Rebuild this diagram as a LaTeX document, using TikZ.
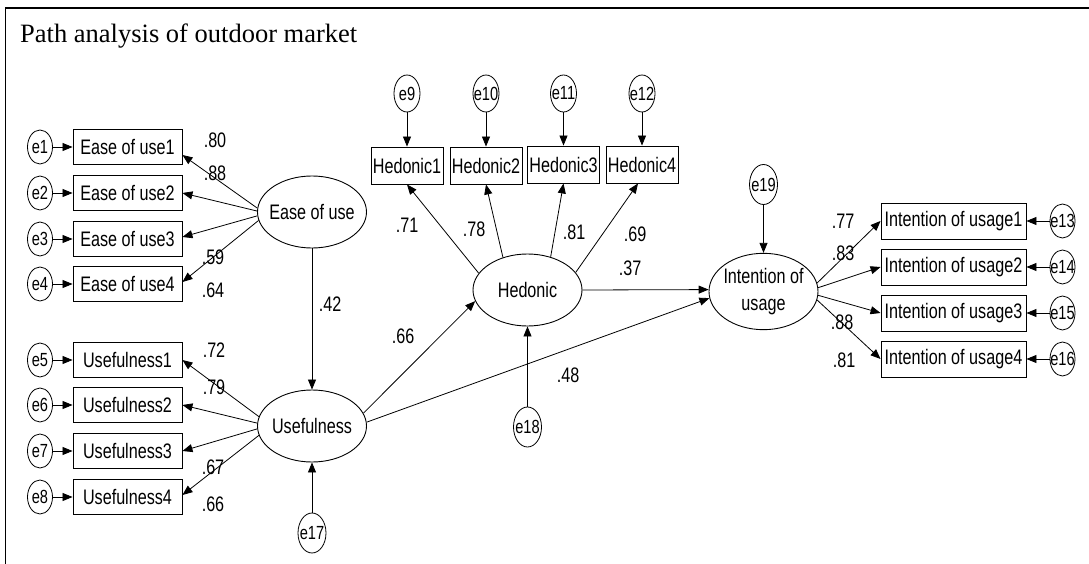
\documentclass[tikz,border=0pt]{standalone}
\usepackage{fontspec}
\setmainfont{Liberation Serif}
\newfontfamily\amosfam[FakeStretch=0.77]{Liberation Sans}
\usetikzlibrary{shapes.geometric,arrows.meta}
\newcommand\amosfont{\amosfam\fontsize{21}{27}\selectfont}
\newcommand\errfont{\amosfam\fontsize{19}{22}\selectfont}
\begin{document}
\begin{tikzpicture}[x=1pt,y=-1pt,
  obs/.style={draw, rectangle, line width=0.9pt, inner sep=0pt, font=\amosfont},
  eobs/.style={obs, minimum width=109pt, minimum height=35pt},
  hobs/.style={obs, minimum width=72pt, minimum height=37pt},
  iobs/.style={obs, minimum width=145pt, minimum height=36pt},
  lat/.style={draw, ellipse, line width=0.9pt, inner sep=0pt, minimum width=109pt, minimum height=72pt, font=\amosfont},
  err/.style={draw, ellipse, line width=0.8pt, inner sep=0pt, minimum width=25pt, minimum height=34pt, font=\errfont},
  errb/.style={err, minimum width=26pt, minimum height=37pt},
  errc/.style={err, minimum width=28pt, minimum height=40pt},
  lbl/.style={inner sep=0pt, font=\amosfont},
  arr/.style={-{Triangle[length=10pt,width=8pt]}, line width=0.8pt}]
\useasboundingbox (0,0) rectangle (1089,564);
\draw[line width=1.5pt] (5.5,570) -- (5.5,8) -- (1095,8);
\node[anchor=base west, inner sep=0pt, font=\fontsize{26.5}{30}\selectfont] (title) at (20,43) {Path analysis of outdoor market};

% latent variables
\node[lat] (eou) at (312,212) {\makebox[0pt]{Ease of use}};
\node[lat] (us) at (312,426) {\makebox[0pt]{Usefulness}};
\node[lat] (hed) at (527.5,290) {\makebox[0pt]{Hedonic}};
\node[lat] (int) at (763.5,291.5) {\makebox[0pt]{\begin{tabular}{@{}c@{}}Intention of\\usage\end{tabular}}};

% ease of use indicators
\node[eobs] (eu1) at (127.5,147) {Ease of use1};
\node[eobs] (eu2) at (127.5,193) {Ease of use2};
\node[eobs] (eu3) at (127.5,239) {Ease of use3};
\node[eobs] (eu4) at (127.5,284) {Ease of use4};
\node[err] (e1) at (40,147) {\makebox[0pt]{e1}};
\node[err] (e2) at (40,193) {\makebox[0pt]{e2}};
\node[err] (e3) at (40,239) {\makebox[0pt]{e3}};
\node[err] (e4) at (40,284) {\makebox[0pt]{e4}};

% usefulness indicators
\node[eobs] (u1) at (127.5,360) {Usefulness1};
\node[eobs] (u2) at (127.5,405) {Usefulness2};
\node[eobs] (u3) at (127.5,451) {Usefulness3};
\node[eobs] (u4) at (127.5,497) {Usefulness4};
\node[err] (e5) at (40,360) {\makebox[0pt]{e5}};
\node[err] (e6) at (40,405) {\makebox[0pt]{e6}};
\node[err] (e7) at (40,451) {\makebox[0pt]{e7}};
\node[err] (e8) at (40,497) {\makebox[0pt]{e8}};

% hedonic indicators
\node[hobs] (h1) at (407,165.5) {Hedonic1};
\node[hobs] (h2) at (486,165.5) {Hedonic2};
\node[hobs] (h3) at (563.5,164.5) {Hedonic3};
\node[hobs] (h4) at (642,164.5) {Hedonic4};
\node[errb] (e9) at (407,93.5) {\makebox[0pt]{e9}};
\node[errb] (e10) at (486,93.5) {\makebox[0pt]{e10}};
\node[errb] (e11) at (563.5,93.5) {\makebox[0pt]{e11}};
\node[errb] (e12) at (642,93.5) {\makebox[0pt]{e12}};

% intention indicators
\node[iobs] (i1) at (953.5,221) {Intention of usage1};
\node[iobs] (i2) at (953.5,267) {Intention of usage2};
\node[iobs] (i3) at (953.5,313) {Intention of usage3};
\node[iobs] (i4) at (953.5,359) {Intention of usage4};
\node[err] (e13) at (1062.5,221) {\makebox[0pt]{e13}};
\node[err] (e14) at (1062.5,267) {\makebox[0pt]{e14}};
\node[err] (e15) at (1062.5,313) {\makebox[0pt]{e15}};
\node[err] (e16) at (1062.5,359) {\makebox[0pt]{e16}};

% structural errors
\node[errc] (e17) at (312,533) {\makebox[0pt]{e17}};
\node[errc] (e18) at (527.5,427) {\makebox[0pt]{e18}};
\node[errc] (e19) at (763.5,184.5) {\makebox[0pt]{e19}};

% error arrows
\foreach \e/\b in {e1/eu1,e2/eu2,e3/eu3,e4/eu4,e5/u1,e6/u2,e7/u3,e8/u4,
  e9/h1,e10/h2,e11/h3,e12/h4,e13/i1,e14/i2,e15/i3,e16/i4,e17/us,e18/hed,e19/int}
  \draw[arr] (\e) -- (\b);

% loadings
\draw[arr] (eou.176) -- ([yshift=-8pt]eu1.east);
\draw[arr] (eou.179) -- (eu2.east);
\draw[arr] (eou.184) -- ([yshift=2pt]eu3.east);
\draw[arr] (eou.189) -- ([yshift=2pt]eu4.east);
\draw[arr] (us.170) -- (u1.east);
\draw[arr] (us.177) -- (u2.east);
\draw[arr] (us.183) -- (u3.east);
\draw[arr] (us.190) -- ([yshift=2pt]u4.east);
\draw[arr] (hed.161) -- (h1.south);
\draw[arr] (hed.127) -- (h2.south);
\draw[arr] (hed.55) -- (h3.south);
\draw[arr] (hed.20) -- ([xshift=-4pt]h4.south);
\draw[arr] (int.9) -- (i1.west);
\draw[arr] (int.4) -- (i2.west);
\draw[arr] (int.356) -- (i3.west);
\draw[arr] (int.351) -- (i4.west);

% structural paths
\draw[arr] (eou) -- (us);
\draw[arr] (us.14) -- (hed.192);
\draw[arr] (us.4) -- (int.187);
\draw[arr] (hed.east) -- (int.178);

% labels
\node[lbl] (l1) at (215,140) {.80};
\node[lbl] (l2) at (215,173) {.88};
\node[lbl] (l3) at (213,257) {.59};
\node[lbl] (l4) at (213,290) {.64};
\node[lbl] (l5) at (330,304) {.42};
\node[lbl] (l6) at (214,350) {.72};
\node[lbl] (l7) at (214,387) {.79};
\node[lbl] (l8) at (213,467) {.67};
\node[lbl] (l9) at (213,504) {.66};
\node[lbl] (l10) at (407,225) {.71};
\node[lbl] (l11) at (474,229) {.78};
\node[lbl] (l12) at (574,232) {.81};
\node[lbl] (l13) at (635,234) {.69};
\node[lbl] (l14) at (630,268) {.37};
\node[lbl] (l15) at (403,336) {.66};
\node[lbl] (l16) at (568,375) {.48};
\node[lbl] (l17) at (843,221) {.77};
\node[lbl] (l18) at (843,253) {.83};
\node[lbl] (l19) at (842,322) {.88};
\node[lbl] (l20) at (844,360) {.81};
\end{tikzpicture}
\end{document}
